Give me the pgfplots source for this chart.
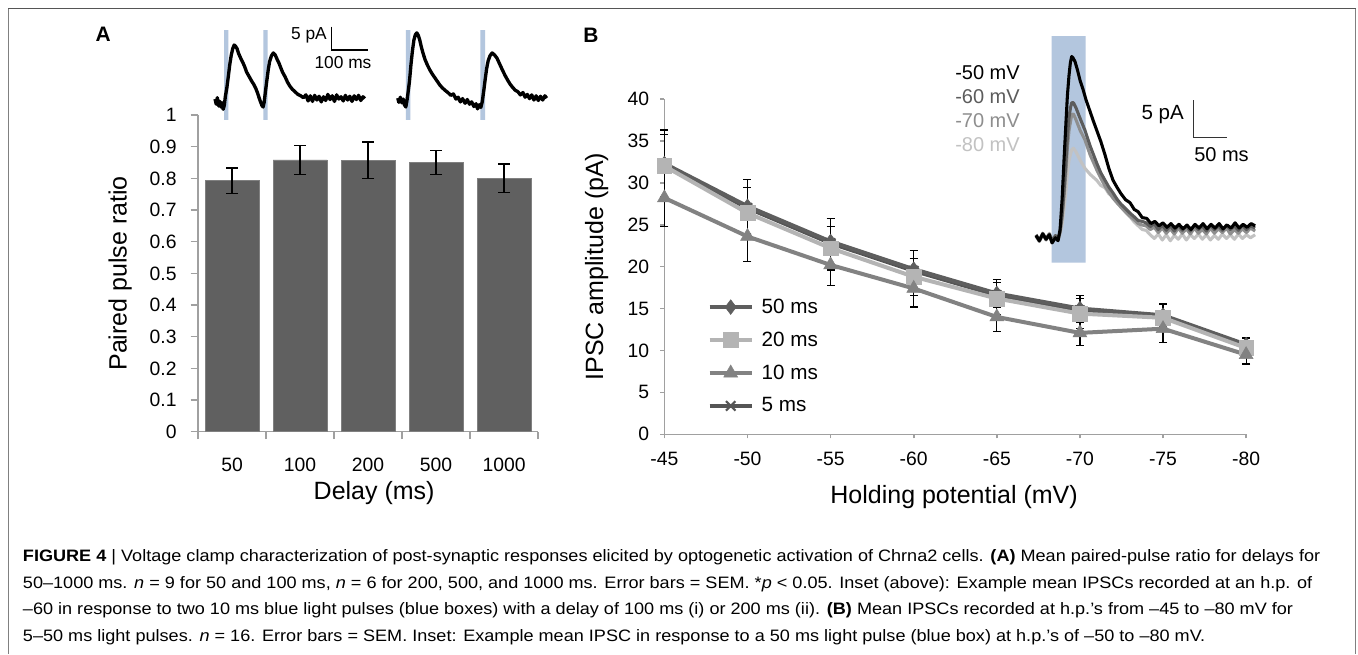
\documentclass[border=0pt]{standalone}
\usepackage{fontspec}
\setmainfont{Liberation Sans}
\usepackage{pgfplots}
\pgfplotsset{compat=1.18}
\usetikzlibrary{plotmarks}

\definecolor{barc}{HTML}{606060}
\definecolor{axc}{HTML}{A0A0A0}
\definecolor{pulse}{HTML}{B3C6DE}
\definecolor{s50}{HTML}{5E5E5E}
\definecolor{s20}{HTML}{B4B4B4}
\definecolor{s10}{HTML}{828282}
\definecolor{s5}{HTML}{555555}
\definecolor{v60}{HTML}{5C5C5C}
\definecolor{v70}{HTML}{8E8E8E}
\definecolor{v80}{HTML}{C2C2C2}
\definecolor{frame}{HTML}{555555}

\newcommand\tkfont{\fontsize{14.5pt}{17pt}\selectfont}
\newcommand\lbfont{\fontsize{18.75pt}{22pt}\selectfont}
\newcommand\lgfont{\fontsize{15.5pt}{18pt}\selectfont}
\newcommand\insfont{\fontsize{15pt}{18pt}\selectfont}
\newcommand\capf{\fontsize{12.4pt}{14pt}\selectfont}
\newcommand\capline[1]{\scalebox{1.094}[1]{#1}}

\pgfplotsset{
  panel/.style={
    scale only axis, anchor=center, clip=false,
    axis x line*=bottom, axis y line*=left,
    axis line style={axc, line width=1.2pt},
    tick style={axc, line width=1.2pt},
    tick align=outside,
    tick label style={font=\tkfont},
    label style={font=\lbfont},
  },
  trace/.style={scale only axis, anchor=center, hide axis, clip=false},
  eb/.style={error bars/y dir=both, error bars/y explicit,
    error bars/error bar style={black, line width=0.9pt},
    error bars/error mark options={rotate=90, black, mark size=3pt, line width=0.9pt}},
}

\begin{document}
\begin{tikzpicture}[x=0.75pt, y=-0.75pt]
\useasboundingbox (0,0) rectangle (1358,654);
\fill[white] (0,0) rectangle (1358,654);

% frame
\draw[frame, line width=1.1pt] (8.3,8.5) -- (1356,8.5);
\draw[gray, line width=0.9pt] (8.3,8.5) -- (8.3,654);
\draw[gray, line width=1.2pt] (1355.5,8.5) -- (1355.5,654);

% panel letters
\node[font=\fontsize{15.7pt}{18pt}\selectfont\bfseries, inner sep=0pt] at (103.3,34) {A};
\node[font=\fontsize{15.7pt}{18pt}\selectfont\bfseries, inner sep=0pt] at (591,35) {B};

% ---------- panel A: bars
\begin{axis}[panel, at={({368*0.75pt},{-273.35*0.75pt})}, width=255pt, height=237.5pt,
  xmin=-0.5, xmax=4.5, ymin=0, ymax=1,
  xtick={-0.5,0.5,1.5,2.5,3.5,4.5}, xticklabels={},
  extra x ticks={0,1,2,3,4}, extra x tick labels={50,100,200,500,1000},
  extra x tick style={major tick length=0pt, xticklabel shift=16.5pt},
  ytick={0,0.1,0.2,0.3,0.4,0.5,0.6,0.7,0.8,0.9,1},
  yticklabels={0,0.1,0.2,0.3,0.4,0.5,0.6,0.7,0.8,0.9,1},
  major tick length=5.5pt, yticklabel shift=7pt,
  xlabel={Delay (ms)}, ylabel={Paired pulse ratio},
  xlabel style={at={(axis description cs:0.518,-0.1936)}, anchor=center},
  ylabel style={at={(axis description cs:-0.229,0.5)}, anchor=center},
]
\addplot[ybar, bar width=40.5pt, fill=barc, draw=gray, line width=0.4pt,
  error bars/y dir=both, error bars/y explicit,
  error bars/error bar style={black, line width=1.1pt},
  error bars/error mark options={rotate=90, black, mark size=4.5pt, line width=1.1pt}]
  coordinates {(0,0.793) +- (0,0.040) (1,0.858) +- (0,0.045) (2,0.857) +- (0,0.058)
               (3,0.850) +- (0,0.038) (4,0.800) +- (0,0.045)};
\end{axis}

% ---------- panel A inset: paired IPSC traces (x in ms, y in pA)
\begin{axis}[trace, at={({380*0.75pt},{-72.5*0.75pt})}, width=255pt, height=78.75pt,
  xmin=0, xmax=929, ymin=-5.365, ymax=17.167]
\addplot[fill=pulse, draw=none] coordinates {(38.3,-4.29) (50.5,-4.29) (50.5,15.02) (38.3,15.02) (38.3,-4.29)};
\addplot[fill=pulse, draw=none] coordinates {(145.6,-4.29) (157.7,-4.29) (157.7,15.02) (145.6,15.02) (145.6,-4.29)};
\addplot[fill=pulse, draw=none] coordinates {(535.5,-4.29) (547.3,-4.29) (547.3,15.02) (535.5,15.02) (535.5,-4.29)};
\addplot[fill=pulse, draw=none] coordinates {(738.5,-4.29) (751.4,-4.29) (751.4,15.02) (738.5,15.02) (738.5,-4.29)};
\addplot[black, line width=2.5pt, line join=round] coordinates {
 (13.7,0.2) (17,-0.9) (20,0.5) (24,-1.3) (27,-0.3) (30,-1.5) (33,-0.6) (36,-2.0) (39,-1.2)
 (42,0.8) (46,2.6) (50,5.0) (54,7.6) (58,9.6) (62,11.0) (66,11.8) (70,11.5) (74,11.0)
 (78,10.0) (82,9.3) (86,8.6) (90,8.0) (95,7.1) (100,6.0) (105,5.3) (110,4.6) (115,3.9)
 (120,3.3) (125,2.5) (130,1.5) (134,0.5) (138,-0.4) (142,-1.2) (145,-1.5) (148,-0.5)
 (151,1.5) (155,4.0) (159,6.4) (163,8.3) (168,9.5) (173,10.1) (178,9.7) (183,8.8)
 (188,8.0) (193,7.0) (198,6.0) (205,5.0) (212,3.8) (218,3.0) (225,2.3) (232,1.8)
 (240,1.2) (248,0.9) (255,0.5) (262,1.1) (268,-0.2) (274,0.9) (280,-0.3) (286,1.0)
 (292,0.0) (298,0.8) (304,-0.4) (310,0.7) (316,-0.1) (322,1.2) (328,0.1) (334,0.9)
 (340,-0.3) (346,1.1) (352,0.2) (358,0.7) (364,-0.2) (370,1.0) (376,0.0) (382,0.8)
 (388,-0.3) (394,0.9) (400,0.1) (406,1.0) (412,-0.1) (418,0.7) (423,0.3)};
\addplot[black, line width=2.5pt, line join=round] coordinates {
 (513,0.4) (516,-0.5) (520,0.6) (524,-0.6) (528,0.2) (531,-1.0) (535,-1.5) (538,-0.2)
 (541,1.5) (545,4.0) (549,7.5) (553,10.5) (557,12.8) (561,14.0) (565,14.4) (569,13.9)
 (573,12.9) (578,11.2) (583,9.8) (588,8.6) (594,7.5) (601,6.4) (608,5.5) (615,4.7)
 (622,3.9) (628,3.2) (635,2.6) (642,2.1) (650,1.6) (658,1.0) (665,1.3) (672,0.2)
 (678,0.6) (684,-0.4) (690,0.3) (697,-0.7) (703,0.1) (709,-0.9) (715,-0.4) (721,-1.4)
 (727,-0.8) (731,-1.9) (736,-1.0) (740,-1.6) (744,-0.3) (748,2.0) (752,4.5) (756,6.8)
 (760,8.4) (765,9.5) (771,10.1) (777,9.7) (784,9.0) (791,7.8) (798,6.6) (806,5.3)
 (813,4.3) (820,3.4) (827,2.7) (834,2.1) (841,1.8) (848,1.1) (855,1.6) (861,0.6)
 (867,1.2) (873,0.3) (879,1.1) (885,0.0) (891,0.9) (897,-0.1) (903,0.8) (909,0.0)
 (915,0.9) (920,0.4)};
\end{axis}
% scale bar A
\draw[black, line width=0.8pt] (331.7,26.7) -- (331.7,50) -- (368.3,50);
\node[anchor=east, inner sep=0pt, font=\fontsize{13pt}{15pt}\selectfont] at (327,35) {5 pA};
\node[inner sep=0pt, font=\fontsize{13pt}{15pt}\selectfont] at (343,63) {100 ms};

% ---------- panel B: IPSC amplitude
\begin{axis}[panel, at={({955.25*0.75pt},{-266.65*0.75pt})}, width=436.3pt, height=251.5pt,
  x dir=reverse, xmin=-80, xmax=-45, ymin=0, ymax=40,
  xtick={-80,-75,-70,-65,-60,-55,-50,-45},
  xticklabels={-80,-75,-70,-65,-60,-55,-50,-45},
  ytick={0,5,10,15,20,25,30,35,40},
  yticklabels={0,5,10,15,20,25,30,35,40},
  major tick length=3pt, xticklabel shift=7pt, yticklabel shift=5pt,
  xlabel={Holding potential (mV)}, ylabel={IPSC amplitude (pA)},
  xlabel style={at={(axis description cs:0.498,-0.187)}, anchor=center},
  ylabel style={at={(axis description cs:-0.1166,0.5)}, anchor=center},
  legend style={at={(axis description cs:0.074,0.4047)}, anchor=north west,
    draw=none, fill=none, inner sep=0pt, row sep=12.4pt, font=\lgfont,
    nodes={inner sep=0pt},
    /tikz/every odd column/.append style={column sep=6pt}},
  legend cell align=left,
  legend image code/.code={\draw[mark repeat=2, mark phase=2, #1]
    plot coordinates {(0pt,0pt) (15.75pt,0pt) (31.5pt,0pt)};},
]
\addplot[s5, line width=3pt, mark=x, mark size=5pt, mark options={line width=1.6pt}, forget plot]
  coordinates {(-45,32.1) (-50,27.0) (-55,22.8) (-60,19.5) (-65,16.6) (-70,14.8) (-75,14.0) (-80,10.5)};
\addplot[s50, line width=3pt, mark=diamond*, mark size=5.5pt, mark options={line width=0.4pt}, eb]
  coordinates {(-45,32.3) +- (0,4.0) (-50,27.2) +- (0,3.2) (-55,23.0) +- (0,2.7) (-60,19.7) +- (0,2.2)
               (-65,16.8) +- (0,1.7) (-70,15.0) +- (0,1.6) (-75,14.2) +- (0,1.4) (-80,10.7) +- (0,0.8)};
\addlegendentry{50 ms}
\addplot[s20, line width=3pt, mark=square*, mark size=5.5pt, mark options={line width=0.4pt}, eb]
  coordinates {(-45,32.0) +- (0,3.8) (-50,26.4) +- (0,3.0) (-55,22.2) +- (0,2.6) (-60,18.8) +- (0,2.2)
               (-65,16.2) +- (0,1.9) (-70,14.4) +- (0,1.8) (-75,13.9) +- (0,1.6) (-80,10.3) +- (0,1.1)};
\addlegendentry{20 ms}
\addplot[s10, line width=3pt, mark=triangle*, mark size=6pt, mark options={line width=0.4pt}, eb]
  coordinates {(-45,28.2) +- (0,3.4) (-50,23.6) +- (0,3.0) (-55,20.2) +- (0,2.4) (-60,17.4) +- (0,2.2)
               (-65,14.0) +- (0,1.7) (-70,12.1) +- (0,1.5) (-75,12.6) +- (0,1.6) (-80,9.5) +- (0,1.1)};
\addlegendentry{10 ms}
\addlegendimage{s5, line width=3pt, mark=x, mark size=5pt, mark options={line width=1.6pt}}
\addlegendentry{5 ms}
\end{axis}

% ---------- panel B inset: IPSC at several holding potentials (x in ms, y in pA)
\begin{axis}[trace, at={({1145*0.75pt},{-150*0.75pt})}, width=172.5pt, height=180pt,
  xmin=0, xmax=344.3, ymin=-4.424, ymax=27.748]
\addplot[fill=pulse, draw=none] coordinates {(32.5,-3.44) (83.4,-3.44) (83.4,26.94) (32.5,26.94) (32.5,-3.44)};
\addplot[v80, line width=2.3pt, line join=round] coordinates {
 (9,0.2) (14,-0.5) (19,0.4) (24,-0.3) (29,0.5) (33,-0.6) (38,0.1) (42,-0.3) (45,0.5)
 (48,1.6) (51,3.8) (54,6.3) (56,8.5) (58.4,10.3) (62.4,11.7) (65,11.9) (68.9,11.4)
 (75,10.3) (82.3,9.2) (90,8.4) (99.9,7.6) (106,6.9) (112.3,6.6) (118,5.8) (124.3,5.4)
 (130,4.7) (136.2,4.0) (143,3.3) (149.7,2.7) (156,2.0) (162,1.5) (168,1.0) (173.7,0.9)
 (180,0.3) (186,-0.2) (192,0.4) (198,-0.4) (204,0.3) (210,-0.5) (216,0.2) (222,-0.3)
 (228,0.4) (234,-0.4) (240,0.3) (246,-0.2) (252,0.4) (258,-0.3) (264,0.3) (270,-0.4)
 (276,0.2) (282,-0.3) (288,0.4) (294,-0.2) (300,0.3) (306,-0.3) (312,0.4) (318,-0.2)
 (324,0.3) (330,-0.1) (337,0.3)};
\addplot[v70, line width=2.3pt, line join=round] coordinates {
 (9,0.1) (14,-0.6) (19,0.3) (24,-0.4) (29,0.3) (33,-0.7) (38,0.0) (42,-0.4) (45,0.6)
 (48,2.5) (51,5.5) (54,9.0) (56,12.0) (58.4,14.3) (62.4,16.4) (65,16.5) (68.9,15.7)
 (75,14.3) (82.3,13.0) (90,11.0) (99.9,9.0) (106,7.9) (112.3,6.8) (118,6.0) (124.3,5.2)
 (130,4.6) (136.2,4.0) (143,3.4) (149.7,2.8) (156,2.3) (162,1.8) (168,1.6) (173.7,1.5)
 (180,1.0) (186,1.3) (192,0.6) (198,1.2) (204,0.5) (210,1.1) (216,0.4) (222,1.2)
 (228,0.5) (234,1.1) (240,0.4) (246,1.2) (252,0.5) (258,1.0) (264,0.4) (270,1.2)
 (276,0.5) (282,1.1) (288,0.6) (294,1.2) (300,0.4) (306,1.0) (312,0.5) (318,1.1)
 (324,0.6) (330,1.2) (337,0.8)};
\addplot[v60, line width=2.3pt, line join=round] coordinates {
 (9,0.3) (14,-0.4) (19,0.5) (24,-0.2) (29,0.4) (33,-0.5) (38,0.2) (42,-0.2) (45,0.7)
 (48,2.9) (51,6.3) (54,10.3) (56,13.5) (58.4,16.0) (60.5,17.3) (62.4,18.0) (65,18.0)
 (68.9,17.3) (75,15.9) (82.3,14.3) (90,12.2) (99.9,9.9) (106,8.6) (112.3,7.6) (118,6.7)
 (124.3,5.9) (130,5.1) (136.2,4.4) (143,3.8) (149.7,3.2) (156,2.7) (162,2.2) (168,2.1)
 (173.7,1.9) (180,1.4) (186,1.8) (192,1.0) (198,1.6) (204,0.9) (210,1.5) (216,0.8)
 (222,1.6) (228,0.9) (234,1.5) (240,0.8) (246,1.6) (252,1.0) (258,1.5) (264,0.8)
 (270,1.6) (276,1.0) (282,1.5) (288,0.9) (294,1.6) (300,1.0) (306,1.5) (312,0.9)
 (318,1.6) (324,1.0) (330,1.5) (337,1.2)};
\addplot[black, line width=2.3pt, line join=round] coordinates {
 (9,0.2) (14,-0.5) (19,0.4) (24,-0.3) (29,0.3) (33,-0.8) (38,-0.1) (42,-0.5) (45,1.0)
 (48,5.0) (51,10.5) (54,15.7) (56,19.0) (58.4,21.7) (60.5,23.4) (62.4,24.2) (64.5,24.0)
 (67.4,23.5) (71,22.4) (74.9,21.0) (79,19.9) (83.8,18.4) (90,16.8) (95,15.5) (99.9,14.3)
 (106,12.8) (112.3,11.0) (118,9.2) (124.3,7.6) (130,6.7) (136.2,5.8) (143,5.0)
 (149.7,4.6) (156,3.7) (161.7,3.4) (168,2.6) (174.7,2.5) (181,1.8) (187,2.1) (193,1.5)
 (199,1.9) (205,1.3) (211,1.8) (217,1.2) (223,1.7) (229,1.1) (235,1.6) (241,1.0)
 (247,1.7) (253,1.2) (259,1.8) (265,1.1) (271,1.7) (277,1.2) (283,1.8) (289,1.1)
 (295,1.6) (301,1.2) (307,1.9) (313,1.2) (319,1.7) (325,1.3) (331,1.8) (337,1.5)};
\end{axis}
% inset B labels and scale bar
\node[anchor=east, inner sep=0pt, font=\insfont, text=black] at (1020,73) {-50 mV};
\node[anchor=east, inner sep=0pt, font=\insfont, text=v60] at (1020,97) {-60 mV};
\node[anchor=east, inner sep=0pt, font=\insfont, text=v70] at (1020,121) {-70 mV};
\node[anchor=east, inner sep=0pt, font=\insfont, text=v80] at (1020,145) {-80 mV};
\draw[black!80, line width=1pt] (1193.3,100) -- (1193.3,137.3) -- (1226.7,137.3);
\node[anchor=east, inner sep=0pt, font=\fontsize{15.4pt}{18pt}\selectfont] at (1184,115) {5 pA};
\node[anchor=west, inner sep=0pt, font=\insfont] at (1194,155) {50 ms};

% ---------- caption
\node[anchor=base west, inner sep=0pt, font=\capf] at (22.7,561.5)
  {\capline{\textbf{FIGURE 4} | Voltage clamp characterization of post-synaptic responses elicited by optogenetic activation of Chrna2 cells. \textbf{(A)} Mean paired-pulse ratio for delays for}};
\node[anchor=base west, inner sep=0pt, font=\capf] at (22.7,588.1)
  {\capline{50–1000 ms. \textit{n} = 9 for 50 and 100 ms, \textit{n} = 6 for 200, 500, and 1000 ms. Error bars = SEM. *\textit{p} < 0.05. Inset (above): Example mean IPSCs recorded at an h.p. of}};
\node[anchor=base west, inner sep=0pt, font=\capf] at (22.7,614.7)
  {\capline{–60 in response to two 10 ms blue light pulses (blue boxes) with a delay of 100 ms (i) or 200 ms (ii). \textbf{(B)} Mean IPSCs recorded at h.p.'s from –45 to –80 mV for}};
\node[anchor=base west, inner sep=0pt, font=\capf] at (22.7,641.3)
  {\capline{5–50 ms light pulses. \textit{n} = 16. Error bars = SEM. Inset: Example mean IPSC in response to a 50 ms light pulse (blue box) at h.p.'s of –50 to –80 mV.}};
\end{tikzpicture}
\end{document}
